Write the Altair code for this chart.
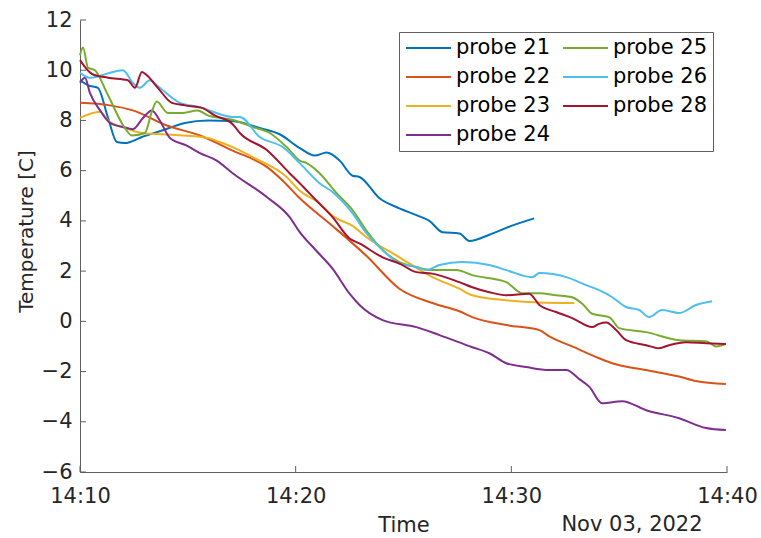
import json
import altair as alt
import pandas as pd

# ---- data (minutes after 14:10, temperature in C) ----
p21_t = [0, 0.37, 0.83, 1.30, 1.71, 2.08, 2.87, 3.80, 4.86, 5.93, 7.04, 8.33, 9.26, 10.19, 10.88, 11.44, 12.04, 12.64, 12.96, 13.89, 14.81, 15.60, 16.20, 16.81, 17.59, 18.06, 18.98, 20.00, 21.06]
p21_v = [9.6, 9.4, 9.3, 8.1, 7.14, 7.1, 7.34, 7.6, 7.9, 8.0, 7.98, 7.7, 7.45, 6.9, 6.6, 6.72, 6.4, 5.8, 5.75, 4.9, 4.5, 4.23, 4.0, 3.55, 3.5, 3.2, 3.45, 3.8, 4.1]

p22_t = [0, 1.39, 2.45, 4.03, 5.56, 7.08, 8.66, 9.40, 10.19, 11.71, 13.29, 14.81, 16.34, 17.59, 18.19, 19.77, 21.30, 21.76, 22.82, 24.07, 24.68, 26.25, 27.78, 28.56, 29.95]
p22_v = [8.7, 8.6, 8.4, 7.8, 7.4, 6.8, 6.15, 5.6, 4.9, 3.8, 2.6, 1.3, 0.73, 0.4, 0.17, -0.15, -0.35, -0.6, -1.0, -1.47, -1.67, -1.94, -2.2, -2.38, -2.5]

p23_t = [0, 0.93, 1.30, 2.08, 2.87, 4.40, 5.93, 6.48, 7.18, 8.01, 9.58, 10.19, 11.11, 11.71, 12.64, 13.29, 14.81, 16.34, 17.59, 18.19, 19.77, 21.30, 22.92]
p23_v = [8.1, 8.35, 8.0, 7.7, 7.5, 7.42, 7.3, 7.14, 6.9, 6.54, 5.75, 5.2, 4.7, 4.2, 3.8, 3.35, 2.55, 1.76, 1.3, 1.04, 0.84, 0.75, 0.73]

p24_t = [0, 0.23, 0.46, 0.93, 1.39, 2.18, 2.45, 2.92, 3.33, 3.70, 4.17, 4.95, 5.56, 6.34, 7.08, 8.66, 9.72, 10.19, 10.97, 11.71, 12.50, 12.96, 14.03, 15.60, 16.67, 18.19, 18.98, 19.77, 20.69, 21.76, 22.55, 23.15, 23.61, 24.21, 25.14, 26.25, 27.78, 29.03, 29.95]
p24_v = [9.5, 9.7, 9.1, 8.4, 7.9, 7.7, 7.65, 8.1, 8.4, 8.0, 7.3, 7.0, 6.7, 6.4, 5.9, 4.95, 4.15, 3.55, 2.8, 2.1, 1.1, 0.65, 0.05, -0.23, -0.55, -1.03, -1.27, -1.67, -1.82, -1.94, -1.94, -2.3, -2.6, -3.26, -3.18, -3.54, -3.86, -4.25, -4.33]

p25_t = [0, 0.14, 0.37, 0.69, 1.30, 2.08, 2.41, 3.01, 3.33, 3.56, 4.07, 4.72, 5.46, 5.93, 7.18, 8.01, 8.80, 9.58, 10.19, 10.51, 11.11, 11.90, 12.64, 13.29, 14.03, 14.81, 15.60, 16.34, 17.45, 18.19, 19.77, 20.51, 21.30, 22.08, 22.82, 23.29, 23.75, 24.54, 25.00, 26.25, 27.78, 29.03, 29.49, 29.95]
p25_v = [10.6, 10.9, 10.1, 10.0, 9.0, 7.7, 7.4, 7.5, 8.35, 8.75, 8.3, 8.3, 8.4, 8.2, 8.0, 7.74, 7.5, 6.94, 6.4, 6.3, 5.9, 5.1, 4.43, 3.6, 2.84, 2.36, 2.16, 2.04, 2.04, 1.84, 1.56, 1.12, 1.12, 1.04, 0.96, 0.7, 0.3, 0.17, -0.27, -0.43, -0.75, -0.79, -1.0, -0.9]

p26_t = [0, 0.46, 1.53, 1.99, 2.45, 2.78, 3.24, 3.56, 4.63, 5.56, 7.08, 7.41, 8.33, 9.40, 10.19, 11.11, 11.71, 12.64, 13.29, 14.03, 14.81, 15.60, 16.06, 16.67, 17.73, 18.98, 19.77, 20.97, 21.30, 22.55, 23.47, 24.07, 24.68, 25.32, 25.93, 26.39, 26.99, 27.78, 28.56, 29.31]
p26_v = [9.9, 9.7, 9.93, 10.0, 9.5, 9.3, 9.6, 9.4, 8.7, 8.53, 8.14, 8.14, 7.34, 6.94, 6.3, 5.5, 5.15, 4.3, 3.5, 2.84, 2.3, 2.16, 2.04, 2.24, 2.36, 2.24, 2.04, 1.76, 1.92, 1.76, 1.44, 1.24, 0.96, 0.57, 0.45, 0.17, 0.45, 0.33, 0.65, 0.8]

p28_t = [0, 0.56, 1.30, 2.22, 2.55, 2.87, 3.10, 3.61, 4.26, 4.86, 5.65, 6.25, 7.08, 7.41, 8.66, 9.72, 10.19, 10.97, 11.71, 12.50, 12.96, 14.03, 14.81, 15.60, 16.34, 17.59, 18.19, 18.98, 19.77, 20.83, 21.30, 22.08, 22.82, 23.75, 24.07, 24.40, 24.86, 25.32, 26.25, 26.85, 27.31, 28.10, 29.03, 29.95]
p28_v = [10.4, 9.85, 9.7, 9.6, 9.3, 9.93, 9.8, 9.3, 8.7, 8.6, 8.5, 8.2, 7.85, 7.5, 6.82, 5.9, 5.5, 4.8, 4.15, 3.3, 3.1, 2.55, 2.3, 1.96, 1.9, 1.56, 1.36, 1.16, 1.04, 1.1, 0.65, 0.37, 0.13, -0.23, -0.1, -0.05, -0.35, -0.75, -0.95, -1.07, -0.95, -0.83, -0.87, -0.9]

series_names = ["probe 21", "probe 22", "probe 23", "probe 24", "probe 25", "probe 26", "probe 28"]
series_colors = ["#0072BD", "#D95319", "#EDB120", "#7E2F8E", "#77AC30", "#4DBEEE", "#A2142F"]
x_tick_values = [0, 10, 20, 30]
x_tick_labels = ["14:10", "14:20", "14:30", "14:40"]
y_tick_values = [-6, -4, -2, 0, 2, 4, 6, 8, 10, 12]
date_label = ["Nov 03, 2022"]

# ---- build table ----
all_series = [(p21_t, p21_v), (p22_t, p22_v), (p23_t, p23_v), (p24_t, p24_v),
              (p25_t, p25_v), (p26_t, p26_v), (p28_t, p28_v)]
rows = []
for name, (ts, vs) in zip(series_names, all_series):
    for t, v in zip(ts, vs):
        rows.append({"probe": name, "t": t, "v": v})
df = pd.DataFrame(rows)

FONT = "DejaVu Sans"
AX = "#5f5f5f"
TXT = "#262626"
W, H = 647, 452

xscale = alt.Scale(domain=[0, 30], nice=False, zero=False)
yscale = alt.Scale(domain=[-6, 12], nice=False, zero=False)

label_expr = "%s[round(datum.value/10)]" % json.dumps(x_tick_labels)

x_axis = alt.Axis(values=x_tick_values, labelExpr=label_expr, ticks=False,
                  tickSize=0, grid=False, labelFlush=False, labelPadding=13,
                  labelFont=FONT, labelFontSize=21, labelColor=TXT,
                  domainColor=AX, domainWidth=1,
                  title="Time", titleFont=FONT, titleFontSize=21,
                  titleFontWeight="normal", titleColor=TXT,
                  titleX=W / 2, titleY=59, titleBaseline="alphabetic",
                  titleAlign="center")
y_axis = alt.Axis(values=y_tick_values, ticks=False, tickSize=0, grid=False,
                  labelPadding=8, labelFont=FONT, labelFontSize=21,
                  labelColor=TXT, domainColor=AX, domainWidth=1,
                  title="Temperature [C]", titleFont=FONT, titleFontSize=20,
                  titleFontWeight="normal", titleColor=TXT,
                  titleAngle=270, titleX=-48, titleY=211,
                  titleBaseline="alphabetic", titleAlign="center")

x_enc = alt.X("t:Q", scale=xscale, axis=x_axis, title="Time")
y_enc = alt.Y("v:Q", scale=yscale, axis=y_axis, title="Temperature [C]")

lines = alt.Chart(df).mark_line(strokeWidth=2, interpolate="monotone").encode(
    x=x_enc,
    y=y_enc,
    color=alt.Color("probe:N",
                    scale=alt.Scale(domain=series_names, range=series_colors),
                    legend=alt.Legend(orient="none", legendX=319, legendY=12,
                                      columns=2, title=None, symbolType="stroke",
                                      symbolSize=2025, symbolStrokeWidth=2,
                                      clipHeight=20, rowPadding=8, columnPadding=12,
                                      labelFont=FONT, labelFontSize=21,
                                      labelColor="black", labelOffset=4,
                                      labelLimit=0, padding=6,
                                      strokeColor=AX, fillColor="white")),
    order=alt.Order("t:Q"),
)

ytick_df = pd.DataFrame({"v": y_tick_values})
xtick_df = pd.DataFrame({"t": x_tick_values})

yticks = alt.Chart(ytick_df).mark_rule(color=AX, strokeWidth=1).encode(
    y=y_enc,
    x=alt.value(0), x2=alt.value(6),
)
xticks = alt.Chart(xtick_df).mark_rule(color=AX, strokeWidth=1).encode(
    x=x_enc,
    y=alt.value(H), y2=alt.value(H - 6),
)

date_df = pd.DataFrame({"label": date_label})
date_text = alt.Chart(date_df).mark_text(font=FONT, fontSize=21, color=TXT,
                                         align="center", baseline="alphabetic").encode(
    text="label:N", x=alt.value(552), y=alt.value(H + 59),
)

chart = alt.layer(lines, yticks, xticks, date_text).properties(
    width=W, height=H,
    autosize=alt.AutoSizeParams(type="none"),
    padding={"left": 80, "top": 20, "right": 34, "bottom": 66},
    background="white",
).configure_view(stroke=None)

chart.save("out.html", embed_options={"renderer": "svg", "actions": False})
